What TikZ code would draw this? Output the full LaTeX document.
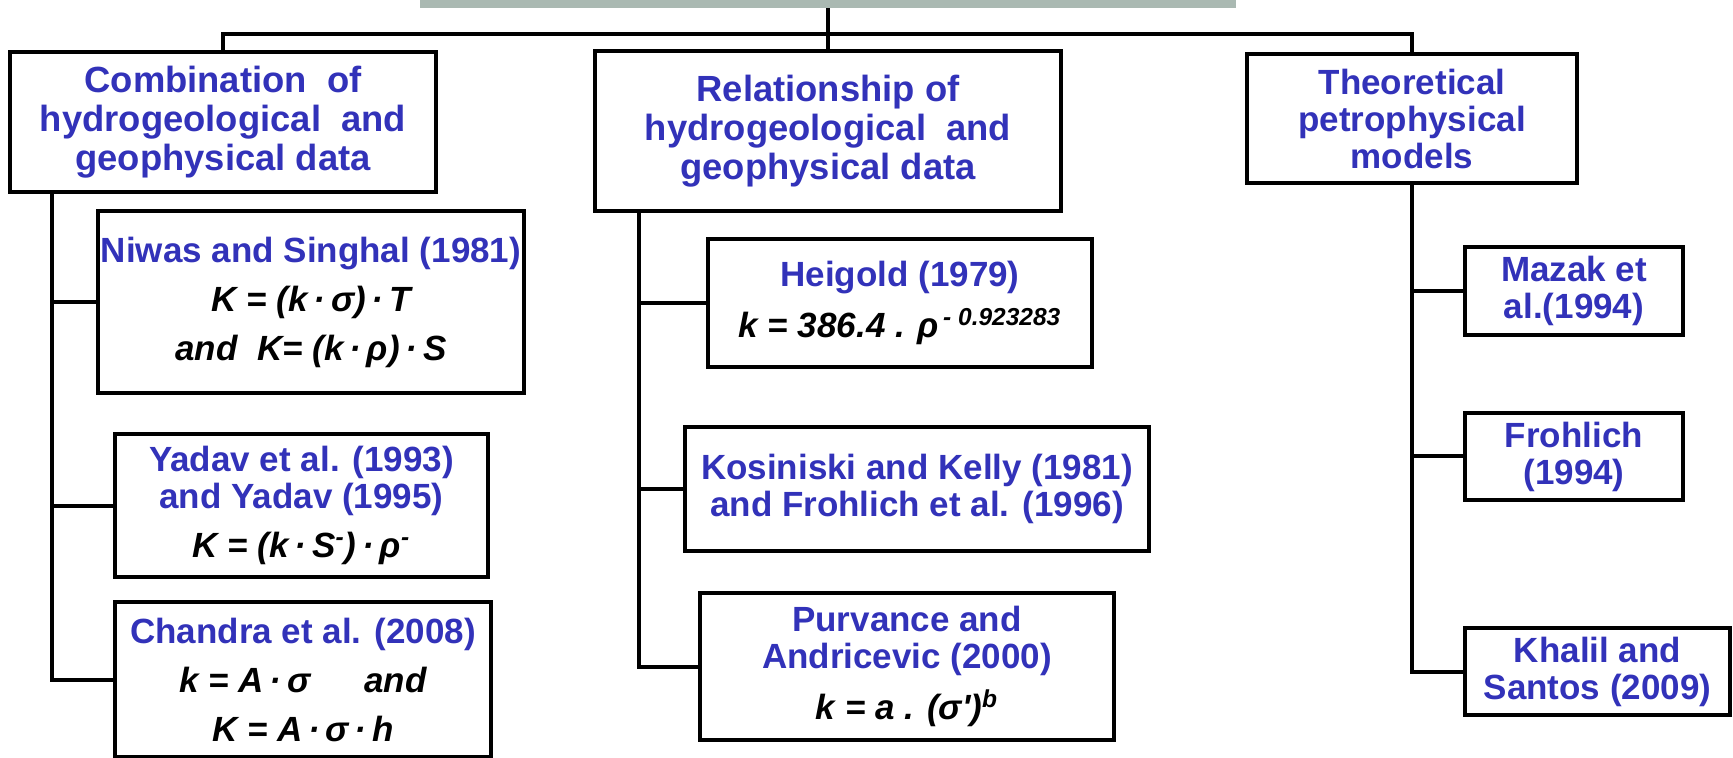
\documentclass[tikz,border=0pt]{standalone}
\usepackage{fontspec}
\setmainfont{Liberation Sans}
\usepackage{tikz}
\definecolor{T}{RGB}{50,50,185}
\definecolor{R}{RGB}{170,185,178}
\newcommand{\fml}[1]{{\color{black}\itshape #1}}
\newcommand{\sq}{{\addfontfeatures{Ligatures=TeXOff}'}}
\newcommand{\drawthick}{\draw[line width=2pt]}
\tikzset{
  refbox/.style 2 args={draw, line width=2pt, inner sep=0pt, align=center, text=T,
    font=\fontsize{17.5}{18.5}\selectfont\bfseries,
    minimum width=#1*.5pt, minimum height=#2*.5pt},
  headbox/.style 2 args={refbox={#1}{#2}, font=\fontsize{18.2}{19.5}\selectfont\bfseries},
}

\begin{document}
\begin{tikzpicture}[x=.5pt,y=-.5pt]
\useasboundingbox (0,0) rectangle (1733,758);
\node[fill=R, inner sep=0pt, minimum width=408pt, minimum height=20pt] (root) at (828,-12) {};
\coordinate (hub) at (828,34);
% first level
\node[headbox={426}{140}] (comb) at (223,122) {Combination\ \ of\\hydrogeological\ \ and\\geophysical\ data};
\node[headbox={466}{160}] (rel) at (828,131) {Relationship of\\hydrogeological\ \ and\\geophysical\ data};
\node[refbox={330}{129}] (theo) at (1412,118.5) {Theoretical\\petrophysical\\models};
% left column
\node[refbox={426}{182}] (niwas) at (311,302) {Niwas and Singhal (1981)\\[6pt]\fml{K = (k\,·\,σ)\,·\,T}\\[6pt]\fml{and\ \ K= (k\,·\,ρ)\,·\,S}};
\node[refbox={373}{143}] (yadav) at (301.5,505.5) {Yadav et al. (1993)\\and Yadav (1995)\\[6pt]\fml{K = (k\,·\,S\textsuperscript{-})\,·\,ρ\textsuperscript{-}}};
\node[refbox={376}{155}] (chandra) at (303,679.5) {Chandra et al. (2008)\\[6pt]\fml{k = A\,·\,σ\hspace{27pt}and}\\[6pt]\fml{K = A\,·\,σ\,·\,h}};
% middle column
\node[refbox={384}{128}] (heigold) at (900,303) {Heigold (1979)\\[6pt]\fml{k = 386.4 . ρ\textsuperscript{\,- 0.923283}}};
\node[refbox={464}{124}] (kos) at (917,489) {Kosiniski and Kelly (1981)\\and Frohlich et al. (1996)};
\node[refbox={414}{147}] (purv) at (907,666.5) {Purvance and\\Andricevic (2000)\\[6pt]\fml{k = a . (σ\sq)\textsuperscript{b}}};
% right column
\node[refbox={218}{88}] (mazak) at (1574,291) {Mazak et\\al.(1994)};
\node[refbox={218}{87}] (froh) at (1574,456.5) {Frohlich\\(1994)};
\node[refbox={265}{87}] (khalil) at (1597.5,671.5) {Khalil and\\Santos (2009)};
% connectors
\drawthick (root.south) -- (hub);
\drawthick (comb.north) |- (hub) -| (theo.north);
\drawthick (hub) -- (rel.north);
\coordinate (lt) at ([xshift=22pt]comb.south west);
\coordinate (mt) at ([xshift=23pt]rel.south west);
\drawthick (lt) |- (chandra.west);
\foreach \b in {niwas,yadav}{\drawthick (lt |- \b.west) -- (\b.west);}
\drawthick (mt) |- (purv.west);
\foreach \b in {heigold,kos}{\drawthick (mt |- \b.west) -- (\b.west);}
\drawthick (theo.south) |- (khalil.west);
\foreach \b in {mazak,froh}{\drawthick (theo.south |- \b.west) -- (\b.west);}
\end{tikzpicture}
\end{document}
